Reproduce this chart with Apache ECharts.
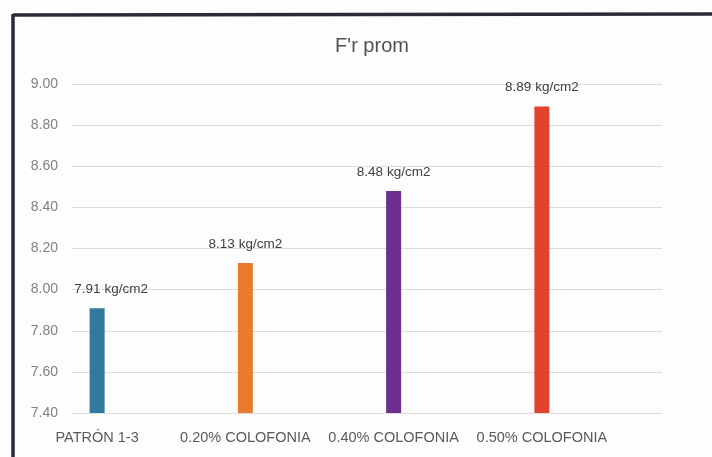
<!DOCTYPE html>
<html>
<head>
<meta charset="utf-8">
<script src="https://cdn.jsdelivr.net/npm/echarts@6/dist/echarts.min.js"></script>
<style>
  html, body { margin: 0; padding: 0; background: #ffffff; }
  #chart { width: 712px; height: 457px; }
</style>
</head>
<body>
<div id="chart"></div>
<script>
// Flexural strength averages per mix
const categories = ['PATRÓN 1-3', '0.20% COLOFONIA', '0.40% COLOFONIA', '0.50% COLOFONIA'];
const values = [7.91, 8.13, 8.48, 8.89];
const barColors = ['#33799f', '#e97a2e', '#6d2e8e', '#e1432f'];
const unit = 'kg/cm2';
const yMin = 7.4, yMax = 9.0, yStep = 0.2;

const chart = echarts.init(document.getElementById('chart'));
const font = 'Liberation Sans, Arial, sans-serif';

chart.setOption({
  backgroundColor: '#fdfdfd',
  animation: false,
  title: {
    text: "F'r prom",
    left: 367, top: 31, textAlign: 'center',
    textStyle: { fontFamily: font, fontSize: 20, fontWeight: 'normal', color: '#505050' }
  },
  graphic: [
    // document frame
    { type: 'line', shape: { x1: 13, y1: 15, x2: 712, y2: 14 }, style: { stroke: '#2b2b38', lineWidth: 3.5 } },
    { type: 'line', shape: { x1: 13, y1: 14, x2: 13, y2: 457 }, style: { stroke: '#2b2b38', lineWidth: 3.5 } }
  ],
  grid: [
    { left: 72, right: 50, top: 84, bottom: 44 },   // value gridlines
    { left: 23, right: 96, top: 84, bottom: 44 }    // bars and categories
  ],
  xAxis: [
    { gridIndex: 0, type: 'category', data: categories, show: false },
    {
      gridIndex: 1, type: 'category', data: categories,
      axisLine: { show: false }, axisTick: { show: false },
      axisLabel: { fontFamily: font, fontSize: 14.5, color: '#5a5a5a', margin: 17, interval: 0 }
    }
  ],
  yAxis: [
    {
      gridIndex: 0, type: 'value', min: yMin, max: yMax, interval: yStep,
      axisLine: { show: false }, axisTick: { show: false },
      splitLine: { lineStyle: { color: '#dcdcdc', width: 1 } },
      axisLabel: { fontFamily: font, fontSize: 14, color: '#808080', margin: 14,
        formatter: v => v.toFixed(2) }
    },
    {
      gridIndex: 1, type: 'value', min: yMin, max: yMax, interval: yStep,
      show: false, splitLine: { show: false }
    }
  ],
  series: [{
    type: 'bar',
    xAxisIndex: 1, yAxisIndex: 1,
    barWidth: 15,
    data: values.map((v, i) => ({
      value: v,
      itemStyle: { color: barColors[i] },
      // the first label is nudged right so it clears the axis labels
      label: i === 0 ? { offset: [14, 0] } : undefined
    })),
    label: {
      show: true, position: 'top', distance: 12,
      fontFamily: font, fontSize: 13.5, color: '#404040',
      formatter: p => p.value.toFixed(2) + ' ' + unit
    }
  }]
});
</script>
</body>
</html>
